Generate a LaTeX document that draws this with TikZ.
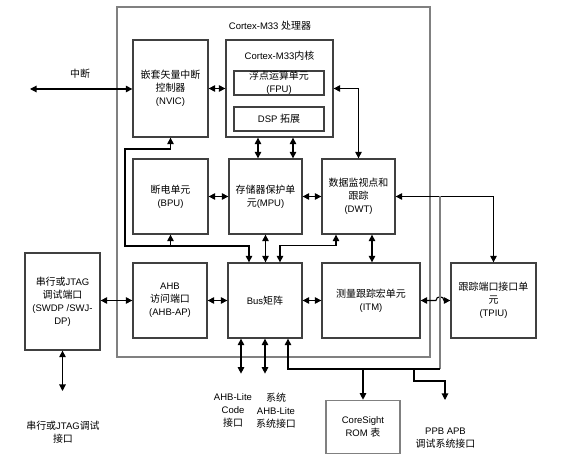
\documentclass[tikz,border=0pt]{standalone}
\usepackage{fontspec}
\setmainfont{Liberation Sans}
\newfontfamily\zhfont[Scale=1.05]{Noto Sans CJK SC}
\newcommand{\zh}[1]{{\zhfont #1}}
\usetikzlibrary{arrows.meta}

\tikzset{
  txt/.style={align=center, inner sep=0pt, font=\fontsize{9.5}{13}\selectfont},
  unit/.style={txt, draw=black!75, line width=1.3pt},
  wire/.style={line width=1.1pt},
  frame/.style={draw=gray, line width=1.6pt}
}

\begin{document}
\begin{tikzpicture}[x=1pt,y=-1pt,>={Triangle[length=6.5pt,width=6.5pt]}]
  \useasboundingbox (0,0) rectangle (563,473);

  % Processor frame
  \draw[frame] (117,7) rectangle (430,357);
  \node[txt] (cputitle) at (270,26) {Cortex-M33 \zh{处理器}};

  % Top row
  \node[unit, minimum width=75pt, minimum height=97pt] (nvic) at (170.5,88.5)
    {\zh{嵌套矢量中断}\\\zh{控制器}\\(NVIC)};
  \node[unit, minimum width=107pt, minimum height=97pt] (core) at (279.5,88.5) {};
  \node[txt] (coretitle) at (279.5,56) {Cortex-M33\zh{内核}};
  \node[unit, minimum width=90pt, minimum height=24pt] (fpu) at (279,83)
    {\zh{浮点运算单元}\\(FPU)};
  \node[unit, minimum width=90pt, minimum height=24pt] (dsp) at (279,119)
    {DSP \zh{拓展}};

  % Middle row
  \node[unit, minimum width=75pt, minimum height=75pt] (bpu) at (170.5,196.5)
    {\zh{断电单元}\\(BPU)};
  \node[unit, minimum width=73pt, minimum height=75pt] (mpu) at (265.5,196.5)
    {\zh{存储器保护单}\\\zh{元}(MPU)};
  \node[unit, minimum width=73pt, minimum height=75pt] (dwt) at (358.5,196.5)
    {\zh{数据监视点和}\\\zh{跟踪}\\(DWT)};

  % Bottom row
  \node[unit, minimum width=75pt, minimum height=97pt] (jtag) at (62.5,301.5)
    {\zh{串行或}JTAG\\\zh{调试端口}\\(SWDP /SWJ-\\DP)};
  \node[unit, minimum width=74pt, minimum height=75pt] (ap) at (170,300.5)
    {AHB\\\zh{访问端口}\\(AHB-AP)};
  \node[unit, minimum width=74pt, minimum height=75pt] (bus) at (265,300.5)
    {Bus\zh{矩阵}};
  \node[unit, minimum width=98pt, minimum height=75pt] (itm) at (371,300.5)
    {\zh{测量跟踪宏单元}\\(ITM)};
  \node[unit, minimum width=85pt, minimum height=75pt] (tpiu) at (493.5,300.5)
    {\zh{跟踪端口接口单}\\\zh{元}\\(TPIU)};
  \node[unit, draw=gray, line width=1.6pt, minimum width=74pt, minimum height=53pt] (rom) at (363,427)
    {CoreSight\\ROM \zh{表}};

  % Outside labels
  \node[txt] (irqlbl) at (80,74) {\zh{中断}};
  \node[txt] (jtaglbl) at (63,432.5) {\zh{串行或}JTAG\zh{调试}\\\zh{接口}};
  \node[txt] (codelbl) at (233,410.5) {AHB-Lite\\Code\\\zh{接口}};
  \node[txt] (syslbl) at (276,410.5) {\zh{系统}\\AHB-Lite\\\zh{系统接口}};
  \node[txt] (ppblbl) at (445.5,438.5) {PPB APB\\\zh{调试系统接口}};

  \coordinate (irq) at (30,89);
  \coordinate (lp1) at (125,149);
  \coordinate (lp2) at (125,246);
  \coordinate (jtagend) at (62.5,391);
  \coordinate (apbR) at (440,369);
  \coordinate (ppbend) at (445,400);

  % Top connections
  \draw[wire,<->] (irq) -- (irq -| nvic.west);
  \draw[wire,<->] (nvic.east) -- (core.west);
  \draw[wire,<->] (core.east) -| (dwt.north);
  \draw[wire,<->] ([xshift=-21.5pt]core.south) -- ([xshift=-21.5pt]core.south |- mpu.north);
  \draw[wire,<->] ([xshift=13.5pt]core.south) -- ([xshift=13.5pt]core.south |- mpu.north);

  % Middle connections
  \draw[wire,<->] (bpu.east) -- (mpu.west);
  \draw[wire,<->] (mpu.east) -- (dwt.west);
  \draw[wire,<->] (dwt.east) -| (tpiu.north);
  \draw[wire,<->] (nvic.south) |- (lp1) -- (lp2) -| ([xshift=-16pt]bus.north);
  \draw[wire,->] (bpu.south |- lp2) -- (bpu.south);
  \draw[wire,<->] (mpu.south) -- (mpu.south |- bus.north);
  \draw[wire,<->] ([xshift=-22.5pt]dwt.south) -- ++(0,11) -| ([xshift=15pt]bus.north);
  \draw[wire,<->] ([xshift=13.5pt]dwt.south) -- ([xshift=13.5pt]dwt.south |- itm.north);

  % Bottom row connections
  \draw[wire,<->] (jtag.east |- ap.west) -- (ap.west);
  \draw[wire,<->] (ap.east) -- (bus.west);
  \draw[wire,<->] (bus.east) -- (itm.west);
  \draw[wire,<->] (itm.east) -- ([xshift=-4pt]itm.east -| apbR)
    .. controls ([xshift=-4pt,yshift=5pt]itm.east -| apbR) and ([xshift=4pt,yshift=5pt]itm.east -| apbR)
    .. ([xshift=4pt]itm.east -| apbR) -- (tpiu.west);
  \draw[wire,<->] (jtag.south) -- (jtagend);

  % Bus matrix outputs
  \draw[wire,<->] ([xshift=-24pt]bus.south) -- ++(0,35);
  \draw[wire,<->] (bus.south) -- ++(0,35);
  \draw[frame] (dwt.east -| apbR) -- (apbR);
  \draw[wire,->] (apbR) -| ([xshift=23pt]bus.south);
  \draw[wire,->] (rom.north |- apbR) -- (rom.north);
  \draw[wire,->] ([xshift=51pt]rom.north |- apbR) -- ++(0,12) -| (ppbend);

\end{tikzpicture}
\end{document}
